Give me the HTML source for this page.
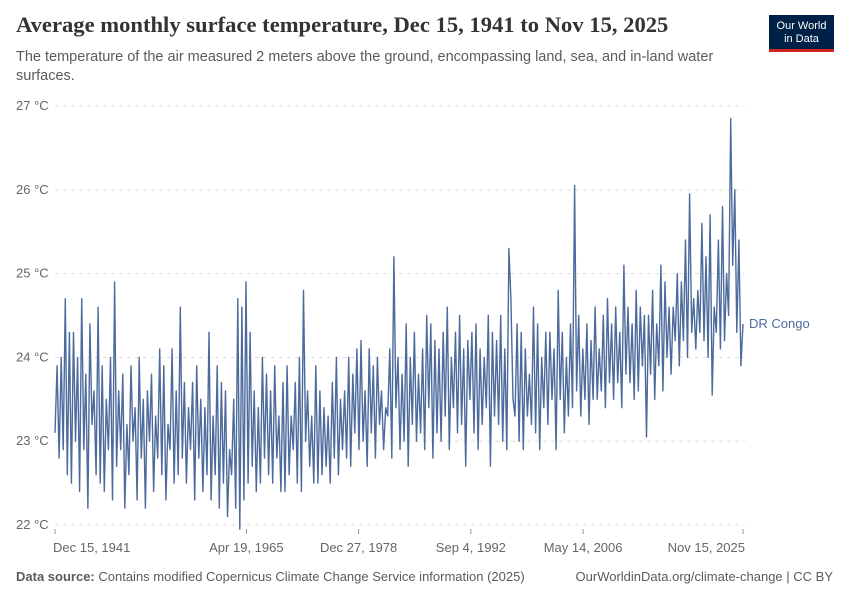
<!DOCTYPE html>
<html><head><meta charset="utf-8"><style>
body{margin:0;background:#fff;font-family:"Liberation Sans",sans-serif;}
#wrap{position:relative;width:850px;height:600px;overflow:hidden;}
.t{position:absolute;white-space:nowrap;}
</style></head><body>
<div id="wrap">
<div class="t" style="left:16px;top:12px;font-family:'Liberation Serif',serif;font-size:22.6px;font-weight:bold;color:#333;">Average monthly surface temperature, Dec 15, 1941 to Nov 15, 2025</div>
<div class="t" style="left:16px;top:48px;font-size:14.5px;color:#5b5b5b;line-height:19px;white-space:normal;width:730px;">The temperature of the air measured 2 meters above the ground, encompassing land, sea, and in-land water surfaces.</div>
<div style="position:absolute;left:769px;top:15px;width:65px;height:37px;background:#002147;border-bottom:3px solid #ce261e;color:#fff;font-size:11px;line-height:13px;text-align:center;box-sizing:border-box;padding-top:5px;">Our World<br>in Data</div>
<svg id="chart" width="850" height="600" style="position:absolute;left:0;top:0"></svg>
<div class="t" style="left:16px;top:569px;font-size:13px;color:#5b5b5b;"><b>Data source:</b> Contains modified Copernicus Climate Change Service information (2025)</div>
<div class="t" style="right:17px;top:569px;font-size:13px;color:#5b5b5b;">OurWorldinData.org/climate-change | CC BY</div>
</div>
<script>
const startYear = 1941.96;
const endYear = 2025.87;
const yTicks = [22,23,24,25,26,27];
const xTickYears = [1941.96,1965.3,1978.99,1992.68,2006.37,2025.87];
const xTickLabels = ["Dec 15, 1941","Apr 19, 1965","Dec 27, 1978","Sep 4, 1992","May 14, 2006","Nov 15, 2025"];
const seriesName = "DR Congo";
const temps = [
23.1,23.9,22.8,24.0, 22.9,24.7,22.6,24.3, 22.5,24.3,23.0,24.0, 22.4,24.7,22.9,23.8,
22.2,24.4,23.2,23.6, 22.6,24.6,22.5,23.9, 22.4,23.5,22.9,24.0, 22.3,24.9,22.7,23.6,
22.9,23.8,22.2,23.2, 22.6,23.9,23.0,23.4, 22.3,24.0,22.8,23.5, 22.2,23.6,23.0,23.8,
22.4,23.3,22.8,24.1, 22.6,23.9,22.3,23.2, 22.9,24.1,22.5,23.6, 22.6,24.6,22.8,23.7,
22.5,23.4,22.9,23.7, 22.3,23.9,22.8,23.5, 22.4,23.4,22.6,24.3, 22.3,23.3,22.6,23.9,
22.2,23.7,22.5,23.6, 22.1,22.9,22.6,23.5, 22.2,24.7,21.95,24.6, 22.3,24.9,22.5,24.3,
22.7,23.6,22.4,23.4, 22.5,24.0,22.8,23.8, 22.6,23.6,22.5,23.9, 22.8,23.3,22.4,23.7,
22.4,23.9,22.6,23.3, 22.9,23.7,22.5,24.0, 22.4,24.8,23.0,23.6, 22.7,23.3,22.5,23.9,
22.5,23.6,22.6,23.4, 22.7,23.3,22.5,23.7, 22.8,24.0,22.6,23.5, 22.9,23.6,22.8,24.0,
22.7,23.8,23.1,24.1, 22.9,24.2,23.0,23.6, 22.7,24.1,23.1,23.9, 22.8,24.0,23.2,23.6,
22.9,23.4,23.3,24.1, 22.8,25.2,23.4,24.0, 22.9,23.8,23.0,24.4, 22.7,24.0,23.2,24.3,
23.0,23.8,23.1,24.1, 22.9,24.5,23.4,24.4, 22.8,24.2,23.1,24.1, 23.0,24.3,23.3,24.6,
22.9,24.0,23.4,24.3, 23.1,24.5,23.2,24.1, 22.7,24.2,23.5,24.3, 23.1,24.4,22.9,24.1,
23.2,24.0,23.4,24.5, 22.7,24.3,23.3,24.2, 23.2,24.5,23.0,24.1, 22.9,25.3,24.7,23.5,
23.3,24.4,23.0,24.3, 22.9,24.1,23.3,23.8, 23.2,24.6,23.1,24.4, 22.9,24.0,23.4,24.3,
23.2,24.3,23.5,24.1, 22.9,24.8,23.5,24.3, 23.1,24.0,23.3,24.4, 23.4,26.05,23.6,24.5,
23.3,24.1,23.5,24.4, 23.2,24.2,23.5,24.6, 23.5,24.1,23.6,24.5, 23.4,24.7,23.7,24.4,
23.5,24.6,23.7,24.3, 23.4,25.1,23.8,24.6, 23.7,24.4,23.5,24.8, 23.6,24.6,23.9,24.5,
23.05,24.5,23.8,24.8, 23.5,24.4,23.9,25.1, 23.6,24.9,24.0,24.6, 23.8,24.6,24.2,25.0,
23.9,24.9,24.2,25.4, 24.0,25.95,24.3,24.7, 24.1,24.8,24.3,25.6, 24.2,25.2,24.0,25.7,
23.55,24.6,24.3,25.4, 24.1,25.8,24.2,25.0, 24.5,26.85,25.1,26.0, 24.3,25.4,23.9,24.4
];
const svg = document.getElementById('chart');
const NS = 'http://www.w3.org/2000/svg';
const L=55, R=743, T=106, B=525;
const xs = yr => L + (yr-startYear)/(endYear-startYear)*(R-L);
const ys = v => B - (v-22)/(27-22)*(B-T);
function mk(tag, attrs){const e=document.createElementNS(NS,tag);for(const k in attrs)e.setAttribute(k,attrs[k]);svg.appendChild(e);return e;}
yTicks.forEach(v=>{
  const g=mk('line',{x1:L,x2:745,y1:ys(v),y2:ys(v),stroke:'#ddd','stroke-dasharray':'4,4'});
  
  
  const t=mk('text',{x:16,y:ys(v)+4,'font-size':13,fill:'#666','font-family':'Liberation Sans, sans-serif'});
  t.textContent=v+' °C';
  
  
});
xTickYears.forEach((yr,i)=>{
  const tk=mk('line',{x1:xs(yr),x2:xs(yr),y1:B+4,y2:B+9,stroke:'#999'});
  
  
  const anchor = i===0?'start':(i===xTickYears.length-1?'end':'middle');
  const t=mk('text',{x:i===0?xs(yr)-2:(i===xTickYears.length-1?xs(yr)+2:xs(yr)),y:552,'font-size':13,fill:'#666','text-anchor':anchor,'font-family':'Liberation Sans, sans-serif'});
  t.textContent=xTickLabels[i];
  
  
});
const step=(endYear-startYear)/(temps.length-1);
const pts=temps.map((v,i)=>xs(startYear+i*step).toFixed(1)+','+ys(v).toFixed(1)).join(' ');
const line=mk('polyline',{points:pts,fill:'none',stroke:'#4c6a9c','stroke-width':1.4,'stroke-linejoin':'round'});


const lab=mk('text',{x:749,y:ys(temps[temps.length-1])+4,'font-size':13,fill:'#4c6a9c','font-family':'Liberation Sans, sans-serif'});
lab.textContent=seriesName;


</script>
</body></html>
